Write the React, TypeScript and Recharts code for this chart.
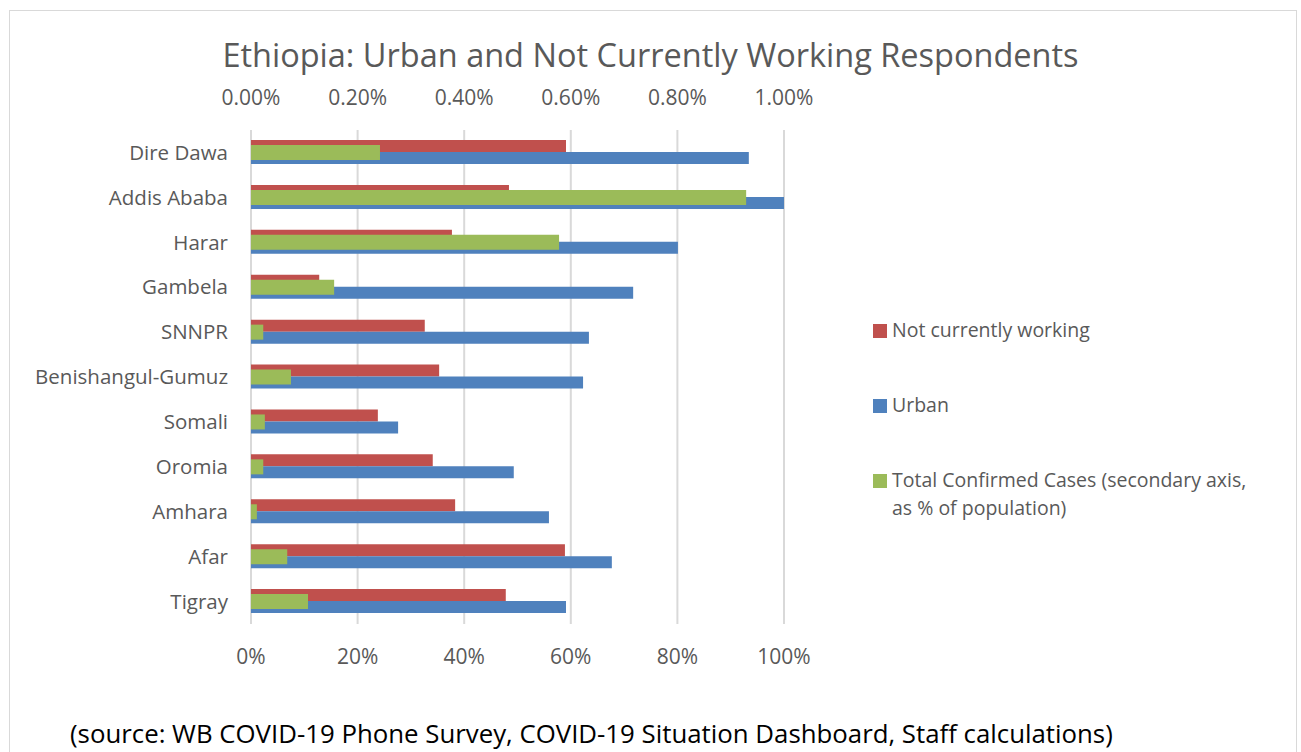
import React from "react";
import { BarChart, Bar, XAxis, YAxis, CartesianGrid } from "recharts";

// regions, top to bottom as in the source chart
const regions = [
  "Dire Dawa",
  "Addis Ababa",
  "Harar",
  "Gambela",
  "SNNPR",
  "Benishangul-Gumuz",
  "Somali",
  "Oromia",
  "Amhara",
  "Afar",
  "Tigray",
];

// % of respondents (primary axis)
const notWorking = [59.1, 48.4, 37.7, 12.8, 32.6, 35.3, 23.8, 34.1, 38.3, 58.9, 47.8];
const urban = [93.4, 100, 80.1, 71.7, 63.4, 62.3, 27.6, 49.3, 55.9, 67.7, 59.1];
// confirmed cases as % of population (secondary axis)
const cases = [0.242, 0.929, 0.578, 0.156, 0.023, 0.075, 0.026, 0.023, 0.011, 0.068, 0.107];

const primaryTicks = [0, 20, 40, 60, 80, 100];
const secondaryTicks = [0, 0.2, 0.4, 0.6, 0.8, 1.0];

const RED = "#C0504D";
const BLUE = "#4F81BD";
const GREEN = "#9BBB59";
const TEXT = "#595959";
const FONT = "'Open Sans', sans-serif";

const data = regions.map((name, i) => ({
  name,
  notWorking: notWorking[i],
  urban: urban[i],
  cases: cases[i],
}));

const legendItems = [
  { color: RED, label: "Not currently working", top: 316 },
  { color: BLUE, label: "Urban", top: 391 },
  { color: GREEN, label: "Total Confirmed Cases (secondary axis,\nas % of population)", top: 466 },
];

export default function App() {
  const axisTick = { fill: TEXT, fontSize: 21, fontFamily: FONT };
  const catTick = { fill: TEXT, fontSize: 20.5, fontFamily: FONT };

  return (
    <div
      style={{
        position: "absolute",
        left: 0,
        top: 0,
        width: 1301,
        height: 752,
        background: "#fff",
        overflow: "hidden",
        fontFamily: FONT,
      }}
    >
      {/* chart frame, open at the bottom */}
      <div
        style={{
          position: "absolute",
          left: 9,
          top: 10,
          width: 1286,
          height: 760,
          border: "1px solid #d9d9d9",
          borderBottom: "none",
        }}
      />

      <div
        style={{
          position: "absolute",
          left: 0,
          width: 1301,
          top: 33,
          textAlign: "center",
          fontSize: 32.5,
          color: TEXT,
          lineHeight: "44px",
        }}
      >
        Ethiopia: Urban and Not Currently Working Respondents
      </div>

      <div style={{ position: "absolute", left: 0, top: 0 }}>
        <BarChart
          width={1301}
          height={752}
          data={data}
          layout="vertical"
          margin={{ top: 0, right: 517, bottom: 88, left: 0 }}
          barGap={0}
        >
          <CartesianGrid
            xAxisId="pri"
            yAxisId="cat"
            horizontal={false}
            stroke="#d9d9d9"
            strokeWidth={2}
          />
          <XAxis
            xAxisId="pri"
            type="number"
            orientation="bottom"
            domain={[0, 100]}
            ticks={primaryTicks}
            tickFormatter={(v: number) => `${v}%`}
            axisLine={false}
            tickLine={false}
            tickSize={0}
            tickMargin={25}
            height={40}
            tick={axisTick}
            interval={0}
          />
          <XAxis
            xAxisId="sec"
            type="number"
            orientation="top"
            domain={[0, 1]}
            ticks={secondaryTicks}
            tickFormatter={(v: number) => `${v.toFixed(2)}%`}
            axisLine={false}
            tickLine={false}
            tickSize={0}
            tickMargin={25}
            height={130}
            tick={axisTick}
            interval={0}
          />
          <YAxis
            yAxisId="cat"
            type="category"
            dataKey="name"
            width={251}
            axisLine={false}
            tickLine={false}
            tickSize={0}
            tickMargin={23}
            tick={catTick}
            interval={0}
          />
          <YAxis yAxisId="cat2" type="category" dataKey="name" hide width={0} />
          <Bar
            xAxisId="pri"
            yAxisId="cat"
            dataKey="notWorking"
            fill={RED}
            barSize={12}
            isAnimationActive={false}
          />
          <Bar
            xAxisId="pri"
            yAxisId="cat"
            dataKey="urban"
            fill={BLUE}
            barSize={12}
            isAnimationActive={false}
          />
          <Bar
            xAxisId="sec"
            yAxisId="cat2"
            dataKey="cases"
            fill={GREEN}
            barSize={15}
            isAnimationActive={false}
          />
        </BarChart>
      </div>

      {legendItems.map((item) => (
        <div
          key={item.label}
          style={{
            position: "absolute",
            left: 873,
            top: item.top,
            display: "flex",
            alignItems: "flex-start",
            color: TEXT,
            fontSize: 19.5,
            lineHeight: "28px",
          }}
        >
          <div
            style={{
              width: 14,
              height: 14,
              background: item.color,
              marginTop: 8,
              marginRight: 5,
              flexShrink: 0,
            }}
          />
          <div style={{ whiteSpace: "pre" }}>{item.label}</div>
        </div>
      ))}

      <div
        style={{
          position: "absolute",
          left: 70,
          top: 715,
          fontSize: 25.8,
          color: "#000",
          lineHeight: "36px",
          whiteSpace: "nowrap",
        }}
      >
        (source: WB COVID-19 Phone Survey, COVID-19 Situation Dashboard, Staff calculations)
      </div>
    </div>
  );
}
